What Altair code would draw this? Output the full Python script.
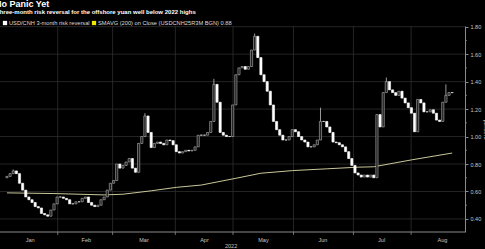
import altair as alt
import pandas as pd

# ---------------- data ----------------
closes = [
    # January
    0.71, 0.73, 0.75, 0.73, 0.66, 0.61, 0.56, 0.54, 0.52, 0.49,
    0.48, 0.44, 0.43, 0.42, 0.465, 0.51, 0.56, 0.56, 0.55, 0.54,
    0.51, 0.51, 0.525, 0.525, 0.55, 0.56, 0.52, 0.50, 0.49, 0.50,
    0.54, 0.56, 0.61, 0.66, 0.68,
    # March onwards
    0.80, 0.77, 0.79, 0.815, 0.84, 0.77, 0.74, 0.95, 1.00, 1.15,
    1.03, 0.92, 0.95, 0.96, 0.95, 0.94, 0.975, 0.97, 0.94, 0.89,
    0.88, 0.89, 0.90, 0.895, 0.90, 0.925, 1.01, 1.01, 1.01, 1.03,
    1.11, 1.38, 1.25, 1.03, 1.01, 1.00, 1.00, 1.23, 1.45, 1.50,
    1.51, 1.49, 1.51, 1.63, 1.73, 1.575, 1.45, 1.40, 1.33, 1.23,
    1.11, 1.05, 1.01, 0.975, 0.975, 1.00, 1.05, 1.035, 1.00, 0.975,
    0.96, 0.925, 0.925, 0.94, 0.975, 1.11, 1.11, 1.07, 1.03, 0.96,
    0.955, 0.94, 0.925, 0.89, 0.84, 0.79, 0.735, 0.72, 0.705, 0.72,
    0.705, 0.72, 0.70, 1.16, 1.07, 1.32, 1.40, 1.34, 1.32, 1.30,
    1.33, 1.28, 1.245, 1.21, 1.17, 1.035, 1.27, 1.245, 1.18, 1.18,
    1.195, 1.17, 1.12, 1.11, 1.25, 1.30, 1.32, 1.32,
]
first_open = 0.70

wick_hi_idx = [2, 44, 66, 79, 100, 121, 140]
wick_hi_val = [0.76, 1.17, 1.42, 1.75, 1.21, 1.43, 1.38]

sma_idx = [0, 15, 31, 37, 46, 54, 62, 73, 81, 91, 102, 112, 117, 129, 142]
sma_val = [0.59, 0.585, 0.575, 0.58, 0.605, 0.63, 0.647, 0.696, 0.733,
           0.752, 0.765, 0.777, 0.78, 0.83, 0.88]

month_bounds = [16.2, 33.7, 53.7, 72.1, 91.4, 110.5, 128.9]
month_names = ["Jan", "Feb", "Mar", "Apr", "May", "Jun", "Jul", "Aug"]
month_label_pos = [7.4, 25.3, 43.7, 63.0, 81.8, 100.8, 119.5, 138.9]
year_label = "2022"
year_pos = 71.5

y_ticks = [0.4, 0.6, 0.8, 1.0, 1.2, 1.4, 1.6, 1.8]
y_minor = [0.5, 0.7, 0.9, 1.1, 1.3, 1.5, 1.7]

title_text = "No Panic Yet"
subtitle_text = "Three-month risk reversal for the offshore yuan well below 2022 highs"
legend1 = "USD/CNH 3-month risk reversal"
legend2 = "SMAVG (200)  on Close (USDCNH25R3M BGN) 0.88"

# ---------------- build tables ----------------
n = len(closes)
opens = [first_open] + closes[:-1]
hi_map = dict(zip(wick_hi_idx, wick_hi_val))
rows = []
for i, (o, c) in enumerate(zip(opens, closes)):
    hi = max(o, c, hi_map.get(i, 0))
    lo = min(o, c)
    rows.append({"idx": i, "open": o, "close": c, "high": hi, "low": lo,
                 "dir": "up" if c > o else "down"})
candles = pd.DataFrame(rows)
sma = pd.DataFrame({"idx": sma_idx, "v": sma_val})
bounds = pd.DataFrame({"idx": month_bounds})
months = pd.DataFrame({"idx": month_label_pos, "name": month_names})
ygrid = pd.DataFrame({"v": y_ticks})
yminor = pd.DataFrame({"v": y_minor})
one = pd.DataFrame({"a": [0]})

W, H = 465, 206
step = 455 / (n - 1)
xs = alt.Scale(domain=[-2 / step, (n - 1) + 8 / step], nice=False, zero=False)
ys = alt.Scale(domain=[0.305, 1.805], nice=False, zero=False)
FONT = "Liberation Sans"
GRID = "#2e2e2e"
AX = "#8a8a8a"

YAX = alt.Axis(
    orient="right", values=y_ticks, format=".2f", grid=False,
    domainColor=AX, tickColor=AX, tickSize=3, labelColor="#c8c8c8",
    labelFont=FONT, labelFontSize=5.5, labelPadding=2,
    title="percent", titleAngle=90, titleColor="#c8c8c8",
    titleFont=FONT, titleFontSize=6, titleFontWeight="normal",
    titlePadding=2)


def X(f="idx"):
    return alt.X(f"{f}:Q", scale=xs, axis=None)


def Y(f):
    return alt.Y(f"{f}:Q", scale=ys, axis=YAX)


hgrid = alt.Chart(ygrid).mark_rule(color=GRID, strokeWidth=0.8).encode(
    x=alt.value(0), x2=alt.value(W), y=Y("v"))
minor = alt.Chart(yminor).mark_rule(color=AX, strokeWidth=0.8).encode(
    x=alt.value(W), x2=alt.value(W + 2), y=Y("v"))
vgrid = alt.Chart(bounds).mark_rule(color=GRID, strokeWidth=0.8).encode(
    x=X(), y=alt.value(0), y2=alt.value(H))
vticks = alt.Chart(bounds).mark_rule(color=AX, strokeWidth=0.8).encode(
    x=X(), y=alt.value(H), y2=alt.value(H + 3))
baseline = alt.Chart(one).mark_rule(color=AX, strokeWidth=1).encode(
    x=alt.value(0), x2=alt.value(W), y=alt.value(H))

sma_line = alt.Chart(sma).mark_line(color="#c9c79a", strokeWidth=1).encode(
    x=X(), y=Y("v"))

wicks = alt.Chart(candles).mark_rule(color="#c0c0c0", strokeWidth=0.8).encode(
    x=X(), y=Y("low"), y2="high:Q")

bodies = alt.Chart(candles).mark_bar(size=2.2, strokeWidth=0.6).encode(
    x=X(), y=Y("open"), y2="close:Q",
    fill=alt.Fill("dir:N", scale=alt.Scale(domain=["up", "down"], range=["#1c1c1c", "#ffffff"]), legend=None),
    stroke=alt.Stroke("dir:N", scale=alt.Scale(domain=["up", "down"], range=["#b4b4b4", "#ffffff"]), legend=None),
)

mlabels = alt.Chart(months).mark_text(color="#c8c8c8", font=FONT, fontSize=5.5, baseline="middle").encode(
    x=X(), y=alt.value(H + 8), text="name:N")
ylabel = alt.Chart(pd.DataFrame({"idx": [year_pos], "t": [year_label]})).mark_text(
    color="#c8c8c8", font=FONT, fontSize=5.5, baseline="middle").encode(
    x=X(), y=alt.value(H + 14), text="t:N")


def txt(s, x, y, size, weight="normal", color="#ffffff"):
    return alt.Chart(pd.DataFrame({"t": [s]})).mark_text(
        align="left", baseline="alphabetic", font=FONT, fontSize=size,
        fontWeight=weight, color=color).encode(
        x=alt.value(x), y=alt.value(y), text="t:N")


def sq(x, y, color):
    return alt.Chart(one).mark_square(color=color, size=18, opacity=1).encode(
        x=alt.value(x), y=alt.value(y))


title = txt(title_text, -5, -19, 9, "bold")
subtitle = txt(subtitle_text, -4, -12.5, 6, "bold")
leg1s = sq(5, -3, "#ffffff")
leg1t = txt(legend1, 9, -1, 5.7, color="#dcdcdc")
leg2s = sq(94, -3, "#f2e600")
leg2t = txt(legend2, 98, -1, 5.7, color="#dcdcdc")

chart = alt.layer(
    hgrid, vgrid, minor, vticks, baseline, sma_line, wicks, bodies,
    mlabels, ylabel, title, subtitle, leg1s, leg1t, leg2s, leg2t,
).properties(
    width=W, height=H, background="#000000",
    padding={"left": 0, "top": 26, "right": 20, "bottom": 17},
    autosize=alt.AutoSizeParams(type="none"),
).configure_view(stroke=None)

chart.save("out.html", embed_options={"renderer": "svg", "actions": False})
